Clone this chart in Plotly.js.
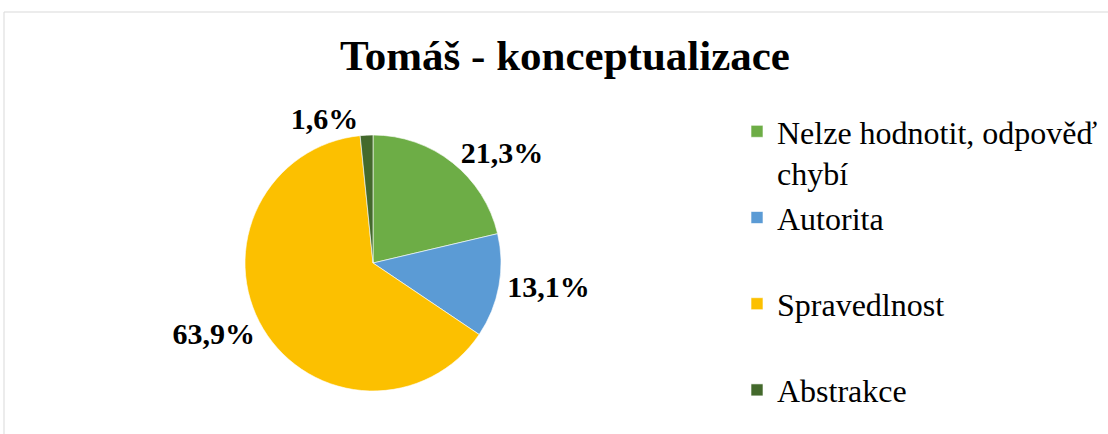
<!DOCTYPE html>
<html>
<head>
<meta charset="utf-8">
<script src="https://cdn.plot.ly/plotly-3.0.1.min.js"></script>
<style>html,body{margin:0;padding:0;background:#fff;}#chart{width:1108px;height:434px;}</style>
</head>
<body>
<div id="chart"></div>
<script>
const categories = ["Nelze hodnotit, odpověď<br>chybí", "Autorita<br>&nbsp;", "Spravedlnost<br>&nbsp;", "Abstrakce"];
const values = [21.3, 13.1, 63.9, 1.6];
const colors = ["#6DAD46", "#5B9BD5", "#FCC000", "#43692C"];

const W = 1108, H = 434;
const cx = 373, cy = 263, r = 128;
const SERIF = "Times New Roman";

const trace = {
  type: "pie",
  labels: categories,
  values: values,
  sort: false,
  direction: "clockwise",
  rotation: 0,
  marker: {colors: colors, line: {color: "rgba(255,255,255,0.6)", width: 1}},
  texttemplate: "<b>%{value:.1f}%</b>",
  textposition: "outside",
  outsidetextfont: {family: SERIF, size: 30, color: "#000"},
  hoverinfo: "label+percent",
  domain: {x: [(cx - r) / W, (cx + r) / W], y: [(H - cy - r) / H, (H - cy + r) / H]}
};

const layout = {
  width: W, height: H,
  margin: {l: 0, r: 0, t: 0, b: 0},
  separators: ", ",
  font: {family: SERIF, color: "#000"},
  paper_bgcolor: "#fff",
  title: {text: "<b>Tomáš - konceptualizace</b>", x: 565 / W, xanchor: "center", y: 1 - 55 / H, yanchor: "middle",
          font: {family: SERIF, size: 43, color: "#000"}},
  showlegend: true,
  legend: {x: 737 / W, xanchor: "left", y: 1 - 104 / H, yanchor: "top", valign: "top",
           font: {family: SERIF, size: 32, color: "#000", weight: 400}, bgcolor: "rgba(0,0,0,0)"},
  shapes: [
    {type: "line", xref: "paper", yref: "paper", x0: 4 / W, x1: 1, y0: 1 - 12 / H, y1: 1 - 12 / H, line: {color: "#D9D9D9", width: 1}},
    {type: "line", xref: "paper", yref: "paper", x0: 4 / W, x1: 4 / W, y0: 0, y1: 1 - 12 / H, line: {color: "#D9D9D9", width: 1}}
  ]
};

Plotly.newPlot("chart", [trace], layout, {displayModeBar: false, staticPlot: true}).then(function (gd) {
  return Plotly.relayout(gd, {"legend.font.family": "Liberation Serif"});
});
</script>
</body>
</html>
